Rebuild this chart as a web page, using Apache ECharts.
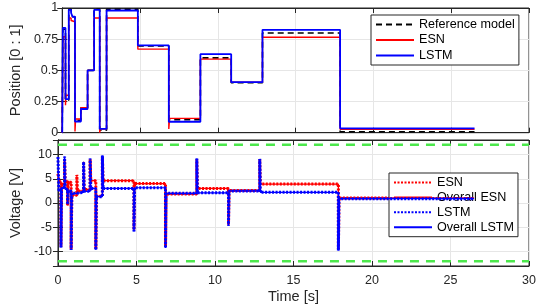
<!DOCTYPE html>
<html><head><meta charset="utf-8">
<script src="https://cdn.jsdelivr.net/npm/echarts@6/dist/echarts.min.js"></script>
<style>html,body{margin:0;padding:0;background:#fff}#c{width:540px;height:305px}</style>
</head><body><div id="c"></div>
<script>
// ---- Top panel: position (step breakpoints in seconds) ----
const posTime = [0, 0.04, 0.21, 0.24, 0.42, 0.57, 0.67, 0.82, 0.86, 1.2, 1.63, 2.05, 2.41, 2.45, 2.85, 4.86, 6.85, 6.9, 8.88, 10.86, 12.87, 17.86, 26.5];
const refPos  = [0, 0.83, 0.26, 0.26, 0.99, 0.96, 0.93, 0.10, 0.10, 0.20, 0.50, 0.99, 0.02, 0.02, 0.99, 0.695, 0.105, 0.105, 0.60, 0.40, 0.80, 0.008, 0.008];
const esnPos  = [0, 0.77, 0.22, 0.30, 0.92, 0.90, 0.89, 0.01, 0.11, 0.20, 0.50, 0.92, 0.00, 0.03, 0.92, 0.67, 0.03, 0.115, 0.59, 0.405, 0.766, 0.027, 0.027];
const lstmPos = [0, 0.84, 0.27, 0.27, 0.985, 0.96, 0.93, 0.09, 0.09, 0.19, 0.50, 0.985, 0.03, 0.03, 0.98, 0.70, 0.088, 0.088, 0.63, 0.405, 0.825, 0.035, 0.035];

// ---- Bottom panel: voltage ----
const voltTime = [0, 0.06, 0.19, 0.23, 0.42, 0.46, 0.61, 0.65, 0.84, 0.88, 1.2, 1.24, 1.63, 1.67, 2.05, 2.09, 2.41, 2.45, 2.83, 2.87, 4.84, 4.88, 6.85, 6.89, 8.84, 8.88, 10.86, 10.9, 12.85, 12.89, 17.86, 17.9, 26.5];
const lstmVolt = [9.5, 2.6, -9.2, 3.2, 9.6, 2.8, -0.3, 2.5, -9.7, 2.0, 2.3, 2.2, 8.5, 2.4, 9.2, 3.0, -9.7, 1.3, 9.8, 3.0, -5.9, 3.15, -9.3, 2.0, 9.2, 2.1, -4.7, 2.5, 9.1, 2.2, -9.8, 0.9, 0.9];
const esnVolt  = [6.0, 4.5, -9.0, 3.8, 9.0, 4.5, -0.5, 4.3, -9.5, 1.6, 5.8, 2.5, 8.5, 2.8, 9.0, 4.6, -9.5, 1.4, 9.5, 4.6, -5.5, 4.0, -9.0, 1.85, 9.0, 3.0, -4.5, 2.6, 9.0, 3.9, -9.5, 1.05, 1.05];
const limitTime = [0, 30];
const voltLimits = [12, -12];

const topLegend = ['Reference model', 'ESN', 'LSTM'];
const bottomLegend = ['ESN', 'Overall ESN', 'LSTM', 'Overall LSTM'];

const zip = (t, v) => t.map((x, i) => [x, v[i]]);
const FONT = 'Liberation Sans, Arial, Helvetica, sans-serif';
const INK = '#262626';
const GRIDC = '#e6e6e6';

function xAx(gi, pos, labels) {
  return {
    type: 'value', gridIndex: gi, position: pos, min: 0, max: 30, interval: 5,
    axisLine: {show: true, onZero: false, lineStyle: {color: INK, width: 1}},
    axisTick: {show: true, inside: true, length: 5, lineStyle: {color: INK}},
    axisLabel: {show: labels, color: INK, fontSize: 12.5, margin: 8, fontFamily: FONT},
    splitLine: {show: pos === 'bottom', lineStyle: {color: GRIDC, width: 1}}
  };
}

const chart = echarts.init(document.getElementById('c'), null, {renderer: 'canvas'});
const bottomNames = ['ESN_v', 'Overall ESN_v', 'LSTM_v', 'Overall LSTM_v'];
const nameMap = {'ESN_v': bottomLegend[0], 'Overall ESN_v': bottomLegend[1], 'LSTM_v': bottomLegend[2], 'Overall LSTM_v': bottomLegend[3]};
const hiddenSymbol = {color: 'rgba(0,0,0,0)', borderWidth: 0, opacity: 0};

chart.setOption({
  animation: false,
  backgroundColor: '#fff',
  textStyle: {fontFamily: FONT, color: INK},
  grid: [
    {left: 56, top: 8, width: 473, height: 124.7, show: true, borderColor: INK, borderWidth: 1, backgroundColor: '#fff'},
    {left: 56, top: 140, width: 473, height: 126, show: true, borderColor: INK, borderWidth: 1, backgroundColor: '#fff'}
  ],
  xAxis: [
    xAx(0, 'bottom', false),
    xAx(0, 'top', false),
    Object.assign(xAx(1, 'bottom', true), {name: 'Time [s]', nameLocation: 'middle', nameGap: 23,
      nameTextStyle: {fontSize: 14.5, color: INK, fontFamily: FONT}}),
    xAx(1, 'top', false)
  ],
  yAxis: [
    {type: 'value', gridIndex: 0, position: 'left', min: 0, max: 1, interval: 0.25,
     name: 'Position [0 : 1]', nameLocation: 'middle', nameGap: 39,
     nameTextStyle: {fontSize: 14.5, color: INK, fontFamily: FONT},
     axisLine: {show: true, lineStyle: {color: INK}},
     axisTick: {show: true, inside: true, length: 5, lineStyle: {color: INK}},
     axisLabel: {color: INK, fontSize: 12.5, margin: 4, fontFamily: FONT},
     splitLine: {show: true, lineStyle: {color: GRIDC}}},
    {type: 'value', gridIndex: 0, position: 'right', min: 0, max: 1, interval: 0.25,
     axisLine: {show: true, lineStyle: {color: INK}},
     axisTick: {show: true, inside: true, length: 5, lineStyle: {color: INK}},
     axisLabel: {show: false}, splitLine: {show: false}},
    {type: 'value', gridIndex: 1, position: 'left', min: -13, max: 13, splitNumber: 5,
     name: 'Voltage [V]', nameLocation: 'middle', nameGap: 31,
     nameTextStyle: {fontSize: 14.5, color: INK, fontFamily: FONT},
     axisLine: {show: true, lineStyle: {color: INK}},
     axisTick: {show: true, inside: true, length: 5, lineStyle: {color: INK}},
     axisLabel: {color: INK, fontSize: 12.5, margin: 6, fontFamily: FONT, showMinLabel: false, showMaxLabel: false},
     splitLine: {show: true, lineStyle: {color: GRIDC}}},
    {type: 'value', gridIndex: 1, position: 'right', min: -13, max: 13, splitNumber: 5,
     axisLine: {show: true, lineStyle: {color: INK}},
     axisTick: {show: true, inside: true, length: 5, lineStyle: {color: INK}},
     axisLabel: {show: false}, splitLine: {show: false}}
  ],
  legend: [
    {data: topLegend, orient: 'vertical', left: 371, top: 15, padding: [3, 4, 3, 4],
     itemWidth: 38, itemHeight: 14, itemGap: 2.5, backgroundColor: '#fff', borderColor: INK, borderWidth: 1, borderRadius: 0,
     itemStyle: hiddenSymbol,
     textStyle: {fontSize: 12.6, color: '#000', fontFamily: FONT}, selectedMode: false},
    {data: bottomNames, orient: 'vertical', left: 389, top: 173, padding: [3, 4, 3, 4],
     itemWidth: 38, itemHeight: 14, itemGap: 1.9, backgroundColor: '#fff', borderColor: INK, borderWidth: 1, borderRadius: 0,
     itemStyle: hiddenSymbol,
     formatter: n => nameMap[n],
     textStyle: {fontSize: 12.6, color: '#000', fontFamily: FONT}, selectedMode: false}
  ],
  series: [
    {name: 'Reference model', type: 'line', xAxisIndex: 0, yAxisIndex: 0, step: 'end', symbol: 'none',
     data: zip(posTime, refPos), lineStyle: {color: '#000', width: 1.6, type: [6, 4]}, itemStyle: {color: '#000'}, z: 3},
    {name: 'ESN', type: 'line', xAxisIndex: 0, yAxisIndex: 0, step: 'end', symbol: 'none',
     data: zip(posTime, esnPos), lineStyle: {color: '#ff0000', width: 1.4}, itemStyle: {color: '#ff0000'}, z: 4},
    {name: 'LSTM', type: 'line', xAxisIndex: 0, yAxisIndex: 0, step: 'end', symbol: 'none',
     data: zip(posTime, lstmPos), lineStyle: {color: '#0000ff', width: 1.8}, itemStyle: {color: '#0000ff'}, z: 5},

    {name: 'limitHi', type: 'line', xAxisIndex: 2, yAxisIndex: 2, symbol: 'none', silent: true,
     data: zip(limitTime, limitTime.map(() => voltLimits[0])), lineStyle: {color: '#4ce84c', width: 2.5, type: [9, 7]}, z: 2},
    {name: 'limitLo', type: 'line', xAxisIndex: 2, yAxisIndex: 2, symbol: 'none', silent: true,
     data: zip(limitTime, limitTime.map(() => voltLimits[1])), lineStyle: {color: '#4ce84c', width: 2.5, type: [9, 7]}, z: 2},

    {name: 'ESN_v', type: 'line', xAxisIndex: 2, yAxisIndex: 2, step: 'end', symbol: 'none',
     data: zip(voltTime, esnVolt), lineStyle: {color: '#ff0000', width: 3, type: [2, 1.5]}, itemStyle: {color: '#ff0000'}, z: 3},
    {name: 'Overall ESN_v', type: 'line', xAxisIndex: 2, yAxisIndex: 2, step: 'end', symbol: 'none',
     data: zip(voltTime, esnVolt), lineStyle: {color: '#ff0000', width: 1.2}, itemStyle: {color: '#ff0000'}, z: 4},
    {name: 'LSTM_v', type: 'line', xAxisIndex: 2, yAxisIndex: 2, step: 'end', symbol: 'none',
     data: zip(voltTime, lstmVolt), lineStyle: {color: '#0000ff', width: 3, type: [2, 1.5]}, itemStyle: {color: '#0000ff'}, z: 5},
    {name: 'Overall LSTM_v', type: 'line', xAxisIndex: 2, yAxisIndex: 2, step: 'end', symbol: 'none',
     data: zip(voltTime, lstmVolt), lineStyle: {color: '#0000ff', width: 1.2}, itemStyle: {color: '#0000ff'}, z: 6}
  ]
});
</script></body></html>
